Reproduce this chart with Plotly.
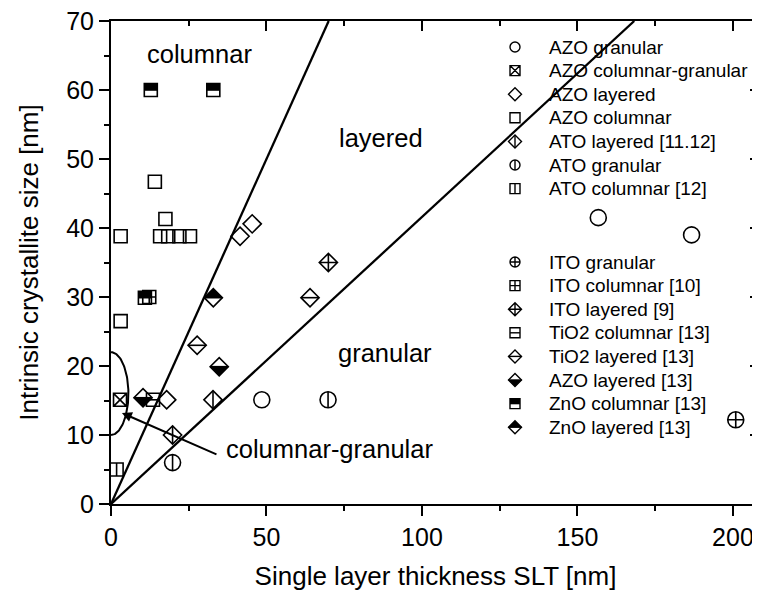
import numpy as np
import plotly.graph_objects as go

# ---------------- data ----------------
azo_granular_x = [48.5, 156.7, 186.7]
azo_granular_y = [15.1, 41.5, 39.0]
azo_colgran_x = [2.9]
azo_colgran_y = [15.1]
azo_layered_x = [17.9, 41.5, 45.4]
azo_layered_y = [15.1, 38.8, 40.6]
azo_columnar_x = [14.1, 17.5, 3.1, 15.8, 18.4, 22.0, 25.4, 3.1]
azo_columnar_y = [46.7, 41.3, 38.8, 38.8, 38.8, 38.8, 38.8, 26.5]
ato_layered_x = [19.8, 32.8]
ato_layered_y = [10.0, 15.1]
ato_granular_x = [19.8, 69.8]
ato_granular_y = [6.0, 15.1]
ato_columnar_x = [1.8]
ato_columnar_y = [5.0]
ito_granular_x = [200.9]
ito_granular_y = [12.2]
ito_columnar_x = [12.3]
ito_columnar_y = [30.0]
ito_layered_x = [69.9]
ito_layered_y = [35.0]
tio2_columnar_x = [13.5]
tio2_columnar_y = [15.1]
tio2_layered_x = [64.0, 27.7]
tio2_layered_y = [29.9, 23.0]
azo_layered13_x = [34.8, 10.3]
azo_layered13_y = [19.9, 15.4]
zno_columnar_x = [12.8, 32.9, 10.9]
zno_columnar_y = [60.0, 60.0, 29.9]
zno_layered_x = [32.9]
zno_layered_y = [29.9]

legend_group1 = ["AZO granular", "AZO columnar-granular", "AZO layered", "AZO columnar",
                 "ATO layered [11.12]", "ATO granular", "ATO columnar [12]"]
legend_group2 = ["ITO granular", "ITO columnar [10]", "ITO layered [9]", "TiO2 columnar [13]",
                 "TiO2 layered [13]", "AZO layered [13]", "ZnO columnar [13]", "ZnO layered [13]"]

boundary_slopes = [1.0, 0.416]
arc_center_y, arc_rx, arc_ry = 16.0, 5.6, 6.0

# ---------------- styling ----------------
FONT = "Liberation Sans, Arial, sans-serif"
X_MAX, Y_MAX = 208.7, 70
PAGE = 8                      # default page margin of the html body
W, H = 760 - PAGE, 591 - PAGE
ML, MR, MT, MB = 111 - PAGE, 0, 21 - PAGE, 87
PW, PH = W - ML - MR, H - MT - MB

series = {
    "AZO granular": (azo_granular_x, azo_granular_y),
    "AZO columnar-granular": (azo_colgran_x, azo_colgran_y),
    "AZO layered": (azo_layered_x, azo_layered_y),
    "AZO columnar": (azo_columnar_x, azo_columnar_y),
    "ATO layered [11.12]": (ato_layered_x, ato_layered_y),
    "ATO granular": (ato_granular_x, ato_granular_y),
    "ATO columnar [12]": (ato_columnar_x, ato_columnar_y),
    "ITO granular": (ito_granular_x, ito_granular_y),
    "ITO columnar [10]": (ito_columnar_x, ito_columnar_y),
    "ITO layered [9]": (ito_layered_x, ito_layered_y),
    "TiO2 columnar [13]": (tio2_columnar_x, tio2_columnar_y),
    "TiO2 layered [13]": (tio2_layered_x, tio2_layered_y),
    "AZO layered [13]": (azo_layered13_x, azo_layered13_y),
    "ZnO columnar [13]": (zno_columnar_x, zno_columnar_y),
    "ZnO layered [13]": (zno_layered_x, zno_layered_y),
}

# glyph = (base shape, inner line, half fill)
glyphs = {
    "AZO granular": ("circle-open", None, None),
    "AZO columnar-granular": ("square-x-open", None, None),
    "AZO layered": ("diamond-open", None, None),
    "AZO columnar": ("square-open", None, None),
    "ATO layered [11.12]": ("diamond-open", "ns", None),
    "ATO granular": ("circle-open", "ns", None),
    "ATO columnar [12]": ("square-open", "ns", None),
    "ITO granular": ("circle-cross-open", None, None),
    "ITO columnar [10]": ("square-cross-open", None, None),
    "ITO layered [9]": ("diamond-cross-open", None, None),
    "TiO2 columnar [13]": ("square-open", "ew", None),
    "TiO2 layered [13]": ("diamond-open", "ew", None),
    "AZO layered [13]": ("diamond-open", "ew", "top"),
    "ZnO columnar [13]": ("square-open", "ew", "bottom"),
    "ZnO layered [13]": ("diamond-open", "ew", "bottom"),
}
base_sizes = {"circle": 16, "square": 13, "diamond": 14}
legend_sizes = {"circle": 10, "square": 10, "diamond": 10}

fig = go.Figure()
shapes = []


def add_glyph(name, xs, ys, sizes, xaxis="x", yaxis="y", lw=1.6):
    base, line, half = glyphs[name]
    kind = base.split("-")[0]
    s = sizes[kind]
    fig.add_trace(go.Scatter(
        x=xs, y=ys, mode="markers", xaxis=xaxis, yaxis=yaxis, showlegend=False,
        hoverinfo="skip", cliponaxis=False,
        marker=dict(symbol=base, size=s, color="black", line=dict(color="black", width=lw))))
    half_extent = s / 2 * (1.3 if kind == "diamond" else 1.0)
    if line:
        fig.add_trace(go.Scatter(
            x=xs, y=ys, mode="markers", xaxis=xaxis, yaxis=yaxis, showlegend=False,
            hoverinfo="skip", cliponaxis=False,
            marker=dict(symbol="line-%s-open" % line, size=2 * half_extent / 1.4, color="black",
                        line=dict(color="black", width=lw))))
    if half:
        r = half_extent
        # pixel paths: positive y points down on screen
        sign = -1 if half == "top" else 1
        if kind == "diamond":
            path = "M %.2f,0 L 0,%.2f L %.2f,0 Z" % (-r, sign * r, r)
        else:
            path = "M %.2f,0 L %.2f,0 L %.2f,%.2f L %.2f,%.2f Z" % (-r, r, r, sign * r, -r, sign * r)
        xr = "x" if xaxis == "x" else "x3"
        yr = "y" if yaxis == "y" else "y3"
        for xv, yv in zip(xs, ys):
            shapes.append(dict(type="path", xref=xr, yref=yr, xsizemode="pixel", ysizemode="pixel",
                               xanchor=xv, yanchor=yv, path=path, fillcolor="black",
                               line=dict(width=0), layer="above"))


# ---------------- boundary lines ----------------
for k in boundary_slopes:
    x_end = min(X_MAX, Y_MAX / k)
    fig.add_trace(go.Scatter(x=[0, x_end], y=[0, k * x_end], mode="lines", showlegend=False,
                             hoverinfo="skip", line=dict(color="black", width=2.3)))

theta = np.linspace(-np.pi / 2, np.pi / 2, 80)
fig.add_trace(go.Scatter(x=arc_rx * np.cos(theta), y=arc_center_y + arc_ry * np.sin(theta),
                         mode="lines", showlegend=False, hoverinfo="skip",
                         line=dict(color="black", width=2)))

# ---------------- data markers ----------------
for name, (xs, ys) in series.items():
    add_glyph(name, xs, ys, base_sizes)

# ---------------- hand-made legend (pixel overlay axes) ----------------
LEG_MX, LEG_TX = 404, 436
ROW = 23.6
annotations = []
for group, top in ((legend_group1, 504 - 47), (legend_group2, 504 - 262)):
    for i, name in enumerate(group):
        yy = top - i * ROW
        add_glyph(name, [LEG_MX], [yy], legend_sizes, xaxis="x3", yaxis="y3", lw=1.4)
        annotations.append(dict(x=LEG_TX, y=yy, xref="x3", yref="y3", text=name, showarrow=False,
                                xanchor="left", yanchor="middle",
                                font=dict(family=FONT, size=19, color="black")))

# dummy trace to activate mirror axes
fig.add_trace(go.Scatter(x=[0], y=[0], xaxis="x2", yaxis="y2", mode="markers",
                         marker=dict(opacity=0), showlegend=False, hoverinfo="skip"))

# ---------------- region labels ----------------
region_font = dict(family=FONT, size=25.5, color="black")
for txt, xv, yv in (("columnar", 28.3, 65.2), ("layered", 86.8, 53.0), ("granular", 88.1, 21.9)):
    annotations.append(dict(x=xv, y=yv, text=txt, showarrow=False, font=region_font))
annotations.append(dict(x=36.3, y=7.9, text="columnar-granular", showarrow=False,
                        xanchor="left", yanchor="middle", font=region_font))
annotations.append(dict(x=3.5, y=13.2, ax=34.4, ay=7.1, axref="x", ayref="y", text="",
                        showarrow=True, arrowhead=2, arrowsize=1.0, arrowwidth=2,
                        arrowcolor="black"))

axis_common = dict(showgrid=False, zeroline=False, showline=True, linecolor="black", linewidth=2,
                   tickcolor="black", tickwidth=2, ticklen=10, automargin=False,
                   ticklabeloverflow="allow",
                   tickfont=dict(family=FONT, size=25, color="black"))
mirror_common = {k: v for k, v in axis_common.items() if k not in ("tickfont", "ticklabeloverflow")}

fig.update_layout(
    width=W, height=H, margin=dict(l=ML, r=MR, t=MT, b=MB),
    paper_bgcolor="white", plot_bgcolor="white", showlegend=False,
    font=dict(family=FONT, color="black"),
    xaxis=dict(range=[0, X_MAX], dtick=50, ticks="outside",
               minor=dict(dtick=25, ticks="outside", ticklen=5, tickcolor="black", tickwidth=2),
               title=dict(text="Single layer thickness SLT [nm]", standoff=19,
                          font=dict(family=FONT, size=26, color="black")),
               **axis_common),
    yaxis=dict(range=[0, Y_MAX], dtick=10, ticks="outside",
               minor=dict(dtick=5, ticks="outside", ticklen=5, tickcolor="black", tickwidth=2),
               title=dict(text="Intrinsic crystallite size [nm]", standoff=20,
                          font=dict(family=FONT, size=26, color="black")),
               **axis_common),
    xaxis2=dict(range=[0, X_MAX], overlaying="x", side="top", anchor="y2", dtick=50, ticks="inside",
                showticklabels=False,
                minor=dict(dtick=25, ticks="inside", ticklen=5, tickcolor="black", tickwidth=2),
                **mirror_common),
    yaxis2=dict(range=[0, Y_MAX], overlaying="y", side="right", anchor="x2", dtick=10, ticks="inside",
                showticklabels=False,
                minor=dict(dtick=5, ticks="inside", ticklen=5, tickcolor="black", tickwidth=2),
                **mirror_common),
    xaxis3=dict(range=[0, PW], overlaying="x", visible=False, anchor="y3"),
    yaxis3=dict(range=[0, PH], overlaying="y", visible=False, anchor="x3"),
    annotations=annotations,
    shapes=shapes,
)

fig.write_html("out.html")
